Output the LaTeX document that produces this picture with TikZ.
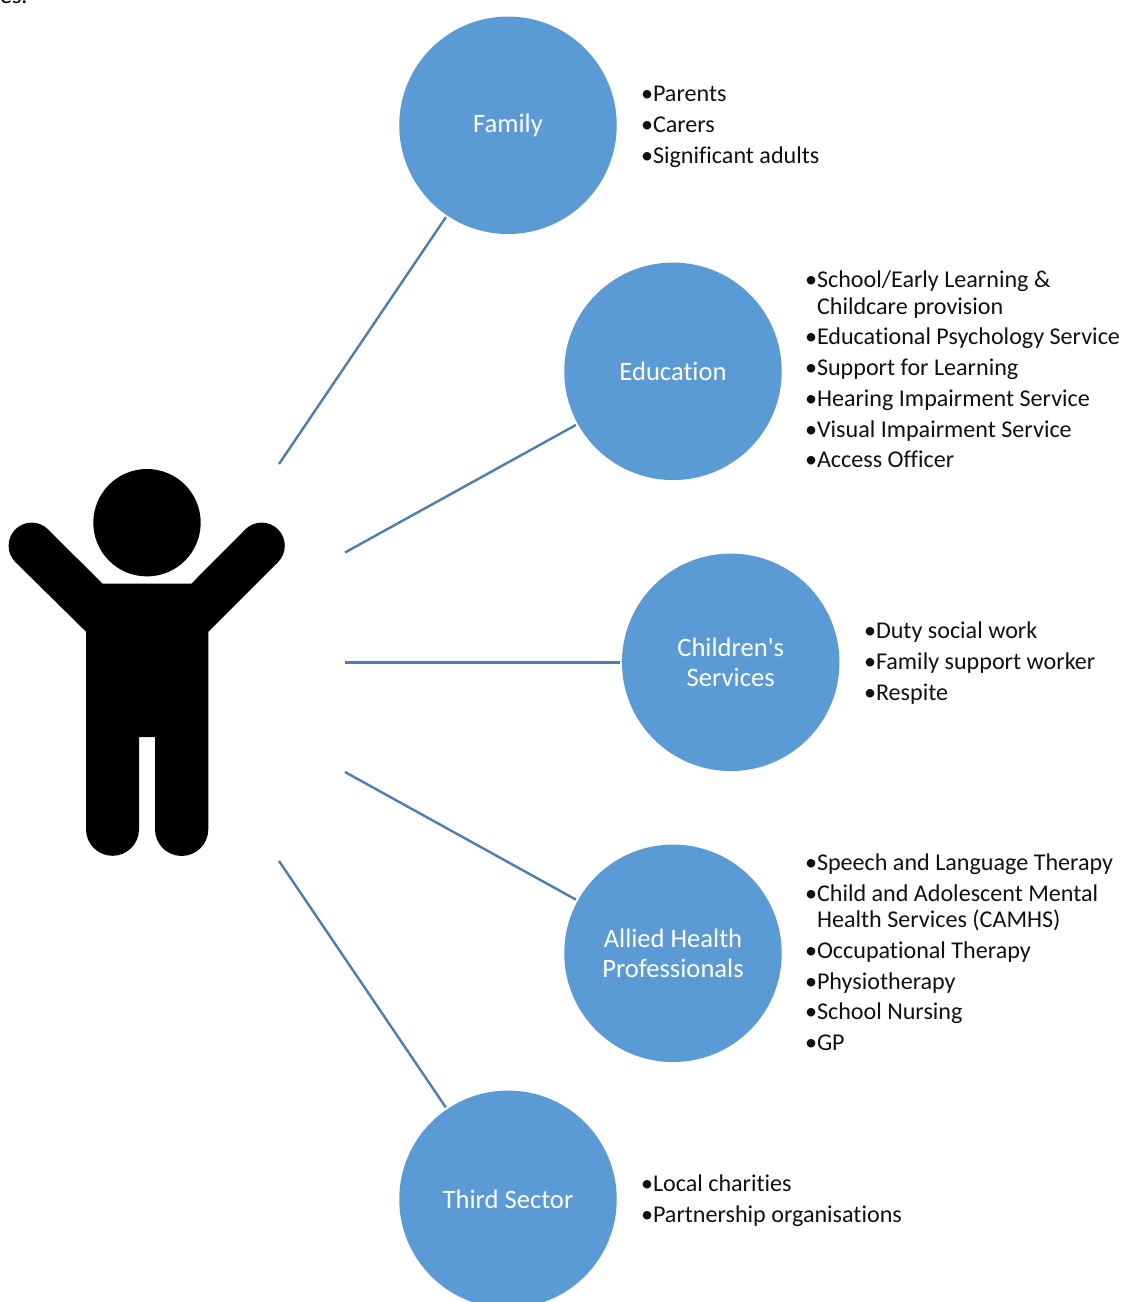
\documentclass[tikz,border=0pt]{standalone}
\usepackage{fontspec}
\setmainfont[Ligatures={NoCommon,TeXOff}]{Carlito}
\definecolor{hub}{HTML}{5B9BD5}
\definecolor{link}{HTML}{4A7EB5}
\definecolor{ink}{HTML}{111111}
\newcommand{\bl}{\makebox[12pt][l]{•}}
\tikzset{
  hubnode/.style={circle,fill=hub,draw=none,minimum size=217.5pt,inner sep=0pt,text=white,align=center,font=\fontsize{26.6}{30}\selectfont},
  itemtext/.style={anchor=base west,inner sep=0pt,outer sep=0pt,yshift=0.5pt,text=ink,font=\fontsize{24.1}{27}\selectfont},
  linkline/.style={draw=link,line width=2.4pt,shorten >=2pt}
}
\begin{document}
\begin{tikzpicture}[x=1pt,y=-1pt]
\useasboundingbox (0,0) rectangle (1125,1302);
\clip (0,0) rectangle (1125,1302);
\fill[white] (0,0) rectangle (1125,1302);
\node[itemtext,text=black] (cut) at (0,4) {es.};
% person
\fill[black] (147,522.7) circle (53.7);
\fill[black] (102.7,583.7) -- (191.3,583.7) -- (245.2,529.7) -- (278.2,561.9) -- (208.3,631.7)
  -- (208.3,829.3) arc (0:180:26.65) -- (155,737) -- (139,737) -- (139,829.3) arc (0:180:26.5)
  -- (86,631.7) -- (15.2,561.9) -- (48.2,529.7) -- cycle;
\fill[black] (31.7,545.7) circle (23.1);
\fill[black] (261.7,545.7) circle (23.1);
% hubs
\node[hubnode] (family) at (508,125.3) {Family};
\node[hubnode] (education) at (673,371.3) {Education};
\node[hubnode] (children) at (730.7,662.3) {Children's\\Services};
\node[hubnode] (allied) at (673,953.3) {Allied Health\\Professionals};
\node[hubnode] (third) at (508,1199.3) {Third Sector};
% connectors
\coordinate (c1) at (279,464);
\coordinate (c2) at (345,552.5);
\coordinate (c3) at (345,662.3);
\coordinate (c4) at (345,772);
\coordinate (c5) at (279,861);
\draw[linkline] (c1) -- (family);
\draw[linkline] (c2) -- (education);
\draw[linkline] (c3) -- (children);
\draw[linkline] (c4) -- (allied);
\draw[linkline] (c5) -- (third);
% lists
\node[itemtext] (f1) at (641,102) {\bl Parents};
\node[itemtext] (f2) at (641,133) {\bl Carers};
\node[itemtext] (f3) at (641,164) {\bl Significant adults};
\node[itemtext] (e1) at (805,288) {\bl School/Early Learning \&};
\node[itemtext] (e1b) at (817,315) {Childcare provision};
\node[itemtext] (e2) at (805,345) {\bl Educational Psychology Service};
\node[itemtext] (e3) at (805,376) {\bl Support for Learning};
\node[itemtext] (e4) at (805,407) {\bl Hearing Impairment Service};
\node[itemtext] (e5) at (805,438) {\bl Visual Impairment Service};
\node[itemtext] (e6) at (805,468) {\bl Access Officer};
\node[itemtext] (s1) at (864,639) {\bl Duty social work};
\node[itemtext] (s2) at (864,670) {\bl Family support worker};
\node[itemtext] (s3) at (864,701) {\bl Respite};
\node[itemtext] (a1) at (805,871) {\bl Speech and Language Therapy};
\node[itemtext] (a2) at (805,902) {\bl Child and Adolescent Mental};
\node[itemtext] (a2b) at (817,928) {Health Services (CAMHS)};
\node[itemtext] (a3) at (805,959) {\bl Occupational Therapy};
\node[itemtext] (a4) at (805,990) {\bl Physiotherapy};
\node[itemtext] (a5) at (805,1020) {\bl School Nursing};
\node[itemtext] (a6) at (805,1051) {\bl GP};
\node[itemtext] (t1) at (641,1192) {\bl Local charities};
\node[itemtext] (t2) at (641,1223) {\bl Partnership organisations};
\end{tikzpicture}
\end{document}
